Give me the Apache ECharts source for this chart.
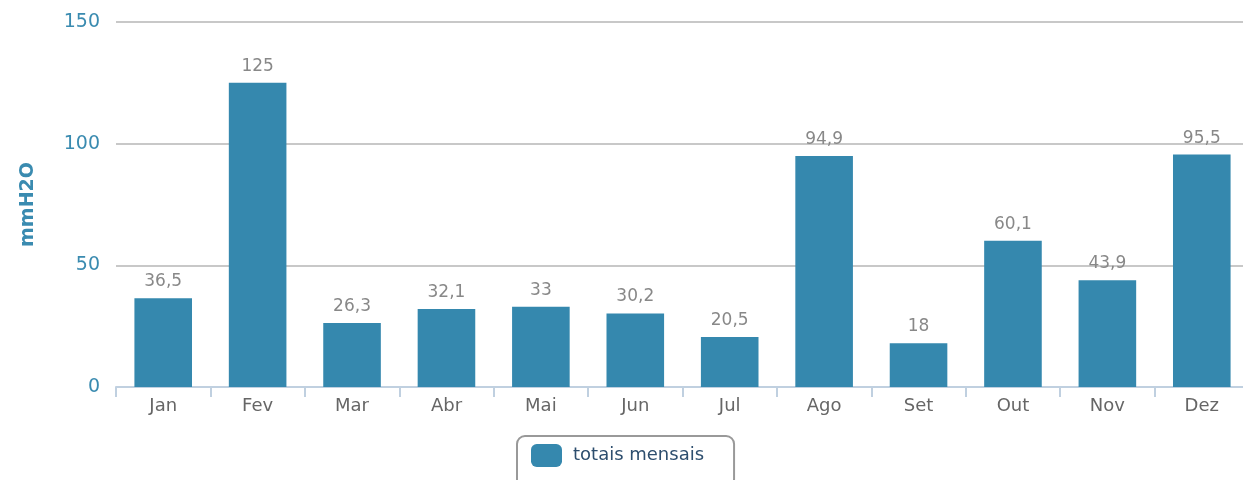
<!DOCTYPE html>
<html><head><meta charset="utf-8">
<script src="https://cdn.jsdelivr.net/npm/echarts@6/dist/echarts.min.js"></script>
<style>html,body{margin:0;padding:0;background:#fff;overflow:hidden}#c{width:1250px;height:480px}</style>
</head><body><div id="c"></div>
<script>
const categories = ['Jan','Fev','Mar','Abr','Mai','Jun','Jul','Ago','Set','Out','Nov','Dez'];
const values = [36.5,125,26.3,32.1,33,30.2,20.5,94.9,18,60.1,43.9,95.5];
const seriesName = 'totais mensais';
const yTitle = 'mmH2O';
const FONT = '"DejaVu Sans", sans-serif';
const chart = echarts.init(document.getElementById('c'), null, {renderer:'canvas'});
chart.setOption({
  animation:false,
  grid:{left:116,right:1,top:22,bottom:93,containLabel:false},
  legend:{
    data:[seriesName], top:436, left:517,
    borderColor:'#999', borderWidth:2, borderRadius:8,
    padding:[8,30,20,14],
    itemWidth:31, itemHeight:23, itemGap:10,
    icon:'roundRect',
    textStyle:{color:'#2d4e6e', fontSize:18, fontFamily:FONT, padding:[4,0,0,6]}
  },
  xAxis:{
    type:'category', data:categories,
    axisLine:{lineStyle:{color:'#c0d0e0',width:2}},
    axisTick:{show:true,length:10,lineStyle:{color:'#c0d0e0',width:2}},
    axisLabel:{color:'#666',fontSize:18,fontFamily:FONT,margin:10}
  },
  yAxis:{
    type:'value', min:0, max:150, interval:50,
    name:yTitle, nameLocation:'middle', nameGap:78, nameRotate:90,
    nameTextStyle:{color:'#3a8bb0',fontSize:19,fontWeight:'bold',fontFamily:FONT},
    axisLine:{show:false}, axisTick:{show:false},
    splitLine:{lineStyle:{color:'#c8c8c8',width:2}},
    axisLabel:{color:'#3a8bb0',fontSize:19,fontFamily:FONT,margin:16}
  },
  series:[{
    name:seriesName, type:'bar', data:values, barWidth:'61%',
    itemStyle:{color:'#3588ae'},
    label:{show:true, position:'top', distance:8, color:'#888', fontSize:17, fontFamily:FONT,
      formatter:p=>String(p.value).replace('.',',')}
  }]
});
</script></body></html>
